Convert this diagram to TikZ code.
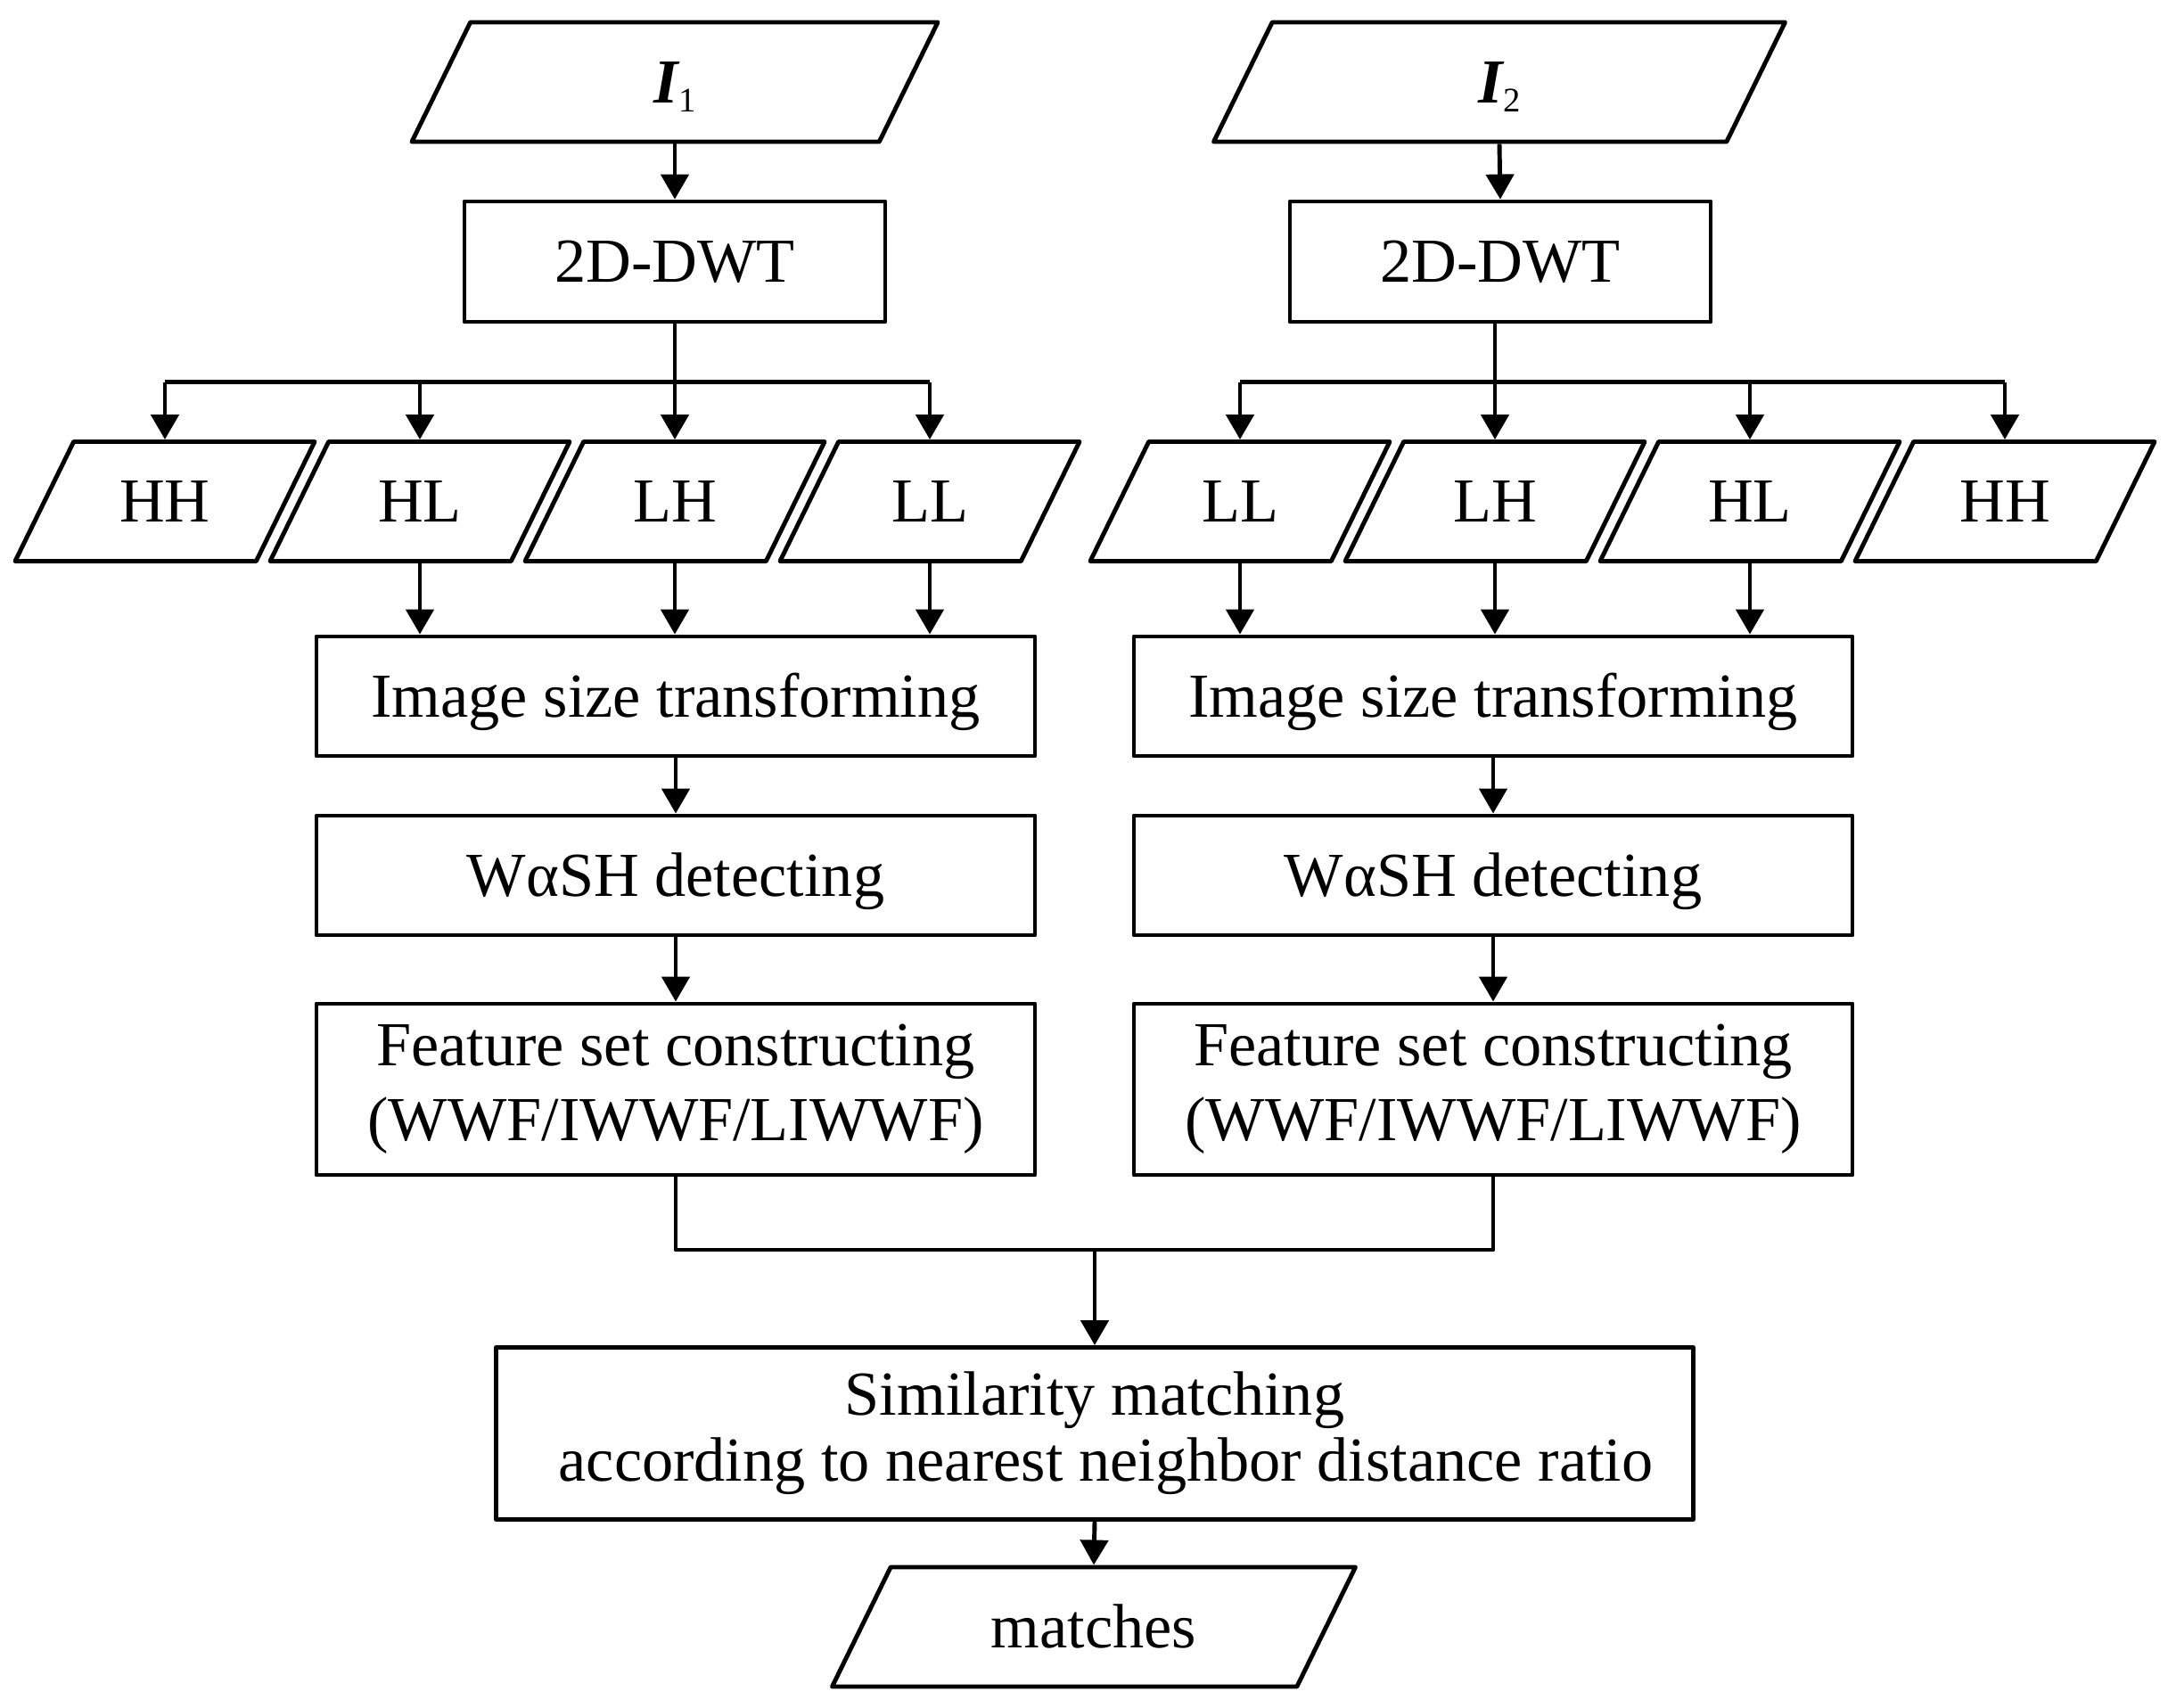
\documentclass[tikz,border=0pt]{standalone}
\usepackage{fontspec}
\setmainfont{Liberation Serif}
\usetikzlibrary{arrows.meta,shapes.geometric}

\begin{document}
\begin{tikzpicture}[>={Triangle[length=0.28cm,width=0.31cm]}, line width=1.4pt, line join=round,
		font=\fontsize{20}{24}\selectfont,
		captext/.style={text height=0.465cm, text depth=0pt},
		box/.style={draw, rectangle, inner sep=0pt, minimum width=8.06cm, minimum height=1.34cm, align=center},
		io/.style={draw, trapezium, trapezium left angle=63.9, trapezium right angle=116.1, captext,
			trapezium stretches body, inner xsep=0pt, inner ysep=0.4375cm, minimum height=1.34cm, minimum width=3.36cm}]
	\useasboundingbox (0,0) rectangle (24.41,-19.16);
	\def\yb{-5.625} % bands
	% inputs
	\node[io, minimum width=5.90cm] (I1) at (7.57,-0.92) {{\bfseries\itshape I}\raisebox{-0.1cm}{\fontsize{11}{11}\selectfont 1}};
	\node[io, minimum width=6.41cm] (I2) at (16.82,-0.92) {{\bfseries\itshape I}\raisebox{-0.1cm}{\fontsize{11}{11}\selectfont 2}};
	\node[box, captext, minimum width=4.72cm, minimum height=1.35cm] (D1) at (7.57,-2.935) {2D-DWT};
	\node[box, captext, minimum width=4.72cm, minimum height=1.35cm] (D2) at (16.83,-2.935) {2D-DWT};
	\coordinate (br1) at (7.57,-4.286);
	\coordinate (br2) at (16.77,-4.286);
	% subbands
	\foreach \lab [count=\i] in {HH,HL,LH,LL}{
		\node[io] (b1\i) at ({1.85+2.86*(\i-1)},\yb) {\lab};
	}
	\foreach \lab [count=\i] in {LL,LH,HL,HH}{
		\node[io] (b2\i) at ({13.91+2.86*(\i-1)},\yb) {\lab};
	}
	% processing
	\node[box, captext] (S1) at (7.58,-7.81) {Image size transforming};
	\node[box, captext] (S2) at (16.75,-7.81) {Image size transforming};
	\node[box, captext] (W1) at (7.58,-9.82) {WαSH detecting};
	\node[box, captext] (W2) at (16.75,-9.82) {WαSH detecting};
	\node[box, minimum height=1.92cm] (F1) at (7.58,-12.22) {Feature set constructing\\(WWF/IWWF/LIWWF)};
	\node[box, minimum height=1.92cm] (F2) at (16.75,-12.22) {Feature set constructing\\(WWF/IWWF/LIWWF)};
	\coordinate (jn) at (12.28,-14.02);
	\node[box, minimum width=13.43cm, minimum height=1.93cm, font=\fontsize{20}{21}\selectfont] (M) at (12.28,-16.08)
		{Similarity matching\\\hspace*{0.25cm}according to nearest neighbor distance ratio};
	\node[io, minimum width=5.87cm] (R) at (12.27,-18.25) {matches};
	% connectors
	\draw[->] (I1.center |- I1.south) -- (D1.north);
	\draw[->] (I2.center |- I2.south) -- (D2.north);
	\draw (D1.south) -- (br1);
	\draw (D2.south -| br2) -- (br2);
	\draw (b11.center |- br1) -- (b14.center |- br1);
	\draw (b21.center |- br2) -- (b24.center |- br2);
	\foreach \i in {1,...,4}{
		\draw[->] (b1\i.center |- br1) -- (b1\i.center |- b1\i.north);
		\draw[->] (b2\i.center |- br2) -- (b2\i.center |- b2\i.north);
	}
	\foreach \i in {2,3,4}{
		\draw[->] (b1\i.center |- b1\i.south) -- (b1\i.center |- S1.north);
	}
	\foreach \i in {1,2,3}{
		\draw[->] (b2\i.center |- b2\i.south) -- (b2\i.center |- S2.north);
	}
	\draw[->] (S1) -- (W1);
	\draw[->] (S2) -- (W2);
	\draw[->] (W1) -- (F1);
	\draw[->] (W2) -- (F2);
	\draw (F1.south) |- (jn) -| (F2.south);
	\draw[->] (jn) -- (M.north);
	\draw[->] (M.south) -- (R.center |- R.north);
\end{tikzpicture}
\end{document}
